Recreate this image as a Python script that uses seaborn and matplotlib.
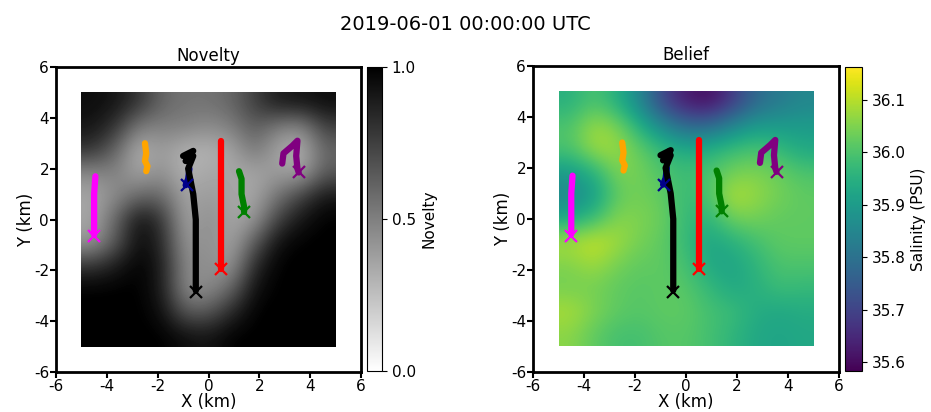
import numpy as np
import pandas as pd
import matplotlib
matplotlib.use("Agg")
import matplotlib.pyplot as plt
import seaborn as sns

sns.set_style("ticks")
plt.rcParams['font.family'] = ['DejaVu Sans']
for k in ["text.color", "axes.labelcolor", "xtick.color", "ytick.color", "axes.edgecolor"]:
    plt.rcParams[k] = "black"

# ---- data ----
title = "2019-06-01 00:00:00 UTC"
# novelty grid (rows top y~4.5 -> bottom y~-4.5, cols x~-4.5 -> 4.5)
novelty = [
    [0.95, 0.92, 0.80, 0.60, 0.55, 0.55, 0.60, 0.75, 0.90, 0.92, 0.95],
    [0.92, 0.80, 0.50, 0.50, 0.50, 0.45, 0.50, 0.65, 0.50, 0.45, 0.75],
    [0.80, 0.60, 0.30, 0.40, 0.30, 0.30, 0.35, 0.55, 0.35, 0.30, 0.60],
    [0.45, 0.50, 0.35, 0.45, 0.30, 0.35, 0.35, 0.35, 0.40, 0.35, 0.65],
    [0.35, 0.45, 0.60, 0.60, 0.35, 0.40, 0.35, 0.35, 0.55, 0.75, 0.92],
    [0.35, 0.60, 0.95, 0.80, 0.35, 0.45, 0.35, 0.40, 0.75, 0.92, 1.00],
    [0.40, 0.65, 0.97, 0.85, 0.40, 0.45, 0.35, 0.65, 0.95, 1.00, 1.00],
    [0.80, 0.90, 1.00, 0.90, 0.45, 0.45, 0.40, 0.85, 1.00, 1.00, 1.00],
    [1.00, 1.00, 1.00, 0.90, 0.45, 0.45, 0.60, 0.95, 1.00, 1.00, 1.00],
    [1.00, 1.00, 1.00, 0.95, 0.65, 0.65, 0.85, 1.00, 1.00, 1.00, 1.00],
    [1.00, 1.00, 1.00, 1.00, 0.95, 0.92, 1.00, 1.00, 1.00, 1.00, 1.00],
]
salinity = [
    [35.95, 36.00, 35.95, 35.85, 35.70, 35.62, 35.60, 35.68, 35.78, 35.82, 35.85],
    [36.00, 36.08, 36.05, 35.95, 35.85, 35.78, 35.78, 35.85, 35.90, 35.90, 35.90],
    [36.00, 36.08, 36.08, 36.02, 35.97, 35.93, 35.95, 35.98, 36.00, 35.97, 35.93],
    [35.90, 35.95, 36.05, 36.04, 36.00, 35.98, 36.00, 36.04, 36.05, 36.03, 36.00],
    [35.85, 35.90, 36.02, 36.04, 36.02, 35.97, 36.00, 36.10, 36.07, 36.04, 36.02],
    [35.93, 35.98, 36.06, 36.05, 36.03, 35.97, 35.96, 36.04, 36.04, 36.02, 36.02],
    [36.09, 36.12, 36.08, 36.04, 36.02, 35.97, 35.92, 35.95, 35.99, 36.02, 36.02],
    [36.05, 36.08, 36.04, 36.02, 36.02, 35.99, 35.93, 35.92, 35.96, 36.00, 36.00],
    [36.04, 36.04, 36.02, 36.01, 36.02, 36.01, 35.97, 35.93, 35.95, 35.98, 35.97],
    [36.09, 36.05, 36.02, 36.01, 36.02, 36.02, 35.99, 35.98, 35.94, 35.93, 35.94],
    [36.06, 36.02, 35.99, 35.99, 36.01, 36.01, 35.99, 35.96, 35.93, 35.92, 35.93],
]
sal_min, sal_max = 35.583, 36.163

track_colors = ["magenta", "orange", "darkblue", "black", "red", "green", "purple"]
track_x = [
    [-4.45, -4.5, -4.5, -4.5, -4.5],
    [-2.5, -2.45, -2.5, -2.4, -2.45],
    [-0.75, -0.8, -0.9],
    [-1.0, -0.6, -0.9, -0.6, -0.8, -0.7, -0.6, -0.55, -0.5, -0.5, -0.5, -0.5],
    [0.5, 0.5, 0.5],
    [1.2, 1.3, 1.3, 1.4, 1.4],
    [2.9, 2.95, 3.3, 3.5, 3.45, 3.5, 3.55],
]
track_y = [
    [1.7, 1.0, 0.3, -0.3, -0.6],
    [3.0, 2.6, 2.3, 2.1, 1.9],
    [2.0, 1.6, 1.35],
    [2.5, 2.7, 2.3, 2.5, 2.0, 1.5, 1.0, 0.5, 0.0, -1.0, -2.0, -2.8],
    [3.1, 0.5, -1.95],
    [1.9, 1.6, 1.0, 0.5, 0.3],
    [2.2, 2.6, 2.9, 3.1, 2.5, 2.0, 1.85],
]
end_colors = ["magenta", "darkblue", "black", "red", "green", "purple"]
end_x = [-4.5, -0.85, -0.5, 0.5, 1.4, 3.55]
end_y = [-0.65, 1.35, -2.85, -1.95, 0.3, 1.85]

ticks = [-6, -4, -2, 0, 2, 4, 6]

W, H = 931, 412
fig = plt.figure(figsize=(W / 100, H / 100), dpi=100)
ax1 = fig.add_axes([56 / W, 40 / H, 305 / W, 305 / H])
cax1 = fig.add_axes([367 / W, 41 / H, 15 / W, 304 / H])
ax2 = fig.add_axes([533 / W, 40 / H, 306 / W, 306 / H])
cax2 = fig.add_axes([845 / W, 41 / H, 17 / W, 304 / H])

im1 = ax1.imshow(np.array(novelty), extent=[-5, 5, -5, 5], cmap="gray_r",
                 vmin=0, vmax=1, interpolation="bicubic", origin="upper")
im2 = ax2.imshow(np.array(salinity), extent=[-5, 5, -5, 5], cmap="viridis",
                 vmin=sal_min, vmax=sal_max, interpolation="bicubic", origin="upper")

for ax, ttl in [(ax1, "Novelty"), (ax2, "Belief")]:
    for c, xs, ys in zip(track_colors, track_x, track_y):
        df = pd.DataFrame({"x": xs, "y": ys})
        sns.lineplot(data=df, x="x", y="y", sort=False, estimator=None, errorbar=None,
                     color=c, lw=4.5, ax=ax,
                     solid_capstyle="round", solid_joinstyle="round")
    for c, x, y in zip(end_colors, end_x, end_y):
        ax.plot([x], [y], marker="x", color=c, ms=8, mew=1.6, ls="none")
    ax.set_xlim(-6, 6)
    ax.set_ylim(-6, 6)
    ax.set_xticks(ticks)
    ax.set_yticks(ticks)
    ax.set_xticklabels([str(t) for t in ticks])
    ax.set_yticklabels([str(t) for t in ticks])
    ax.set_xlabel("X (km)", fontsize=12, labelpad=-1)
    ax.set_ylabel("Y (km)", fontsize=12, labelpad=-1)
    ax.set_title(ttl, fontsize=12, pad=4)
    ax.tick_params(labelsize=11, width=1.5, length=4, pad=1)
    for s in ax.spines.values():
        s.set_visible(True)
        s.set_linewidth(2)

cb1 = fig.colorbar(im1, cax=cax1, ticks=[0.0, 0.5, 1.0])
cb1.ax.set_yticklabels(["0.0", "0.5", "1.0"])
cb1.set_label("Novelty", fontsize=11)
cb1.ax.tick_params(labelsize=11)
cb2 = fig.colorbar(im2, cax=cax2, ticks=[35.6, 35.7, 35.8, 35.9, 36.0, 36.1])
cb2.ax.set_yticklabels(["35.6", "35.7", "35.8", "35.9", "36.0", "36.1"])
cb2.set_label("Salinity (PSU)", fontsize=11)
cb2.ax.tick_params(labelsize=11)

fig.suptitle(title, y=1 - 24 / H, fontsize=14, va="center")
fig.savefig("out.png", dpi=100)
